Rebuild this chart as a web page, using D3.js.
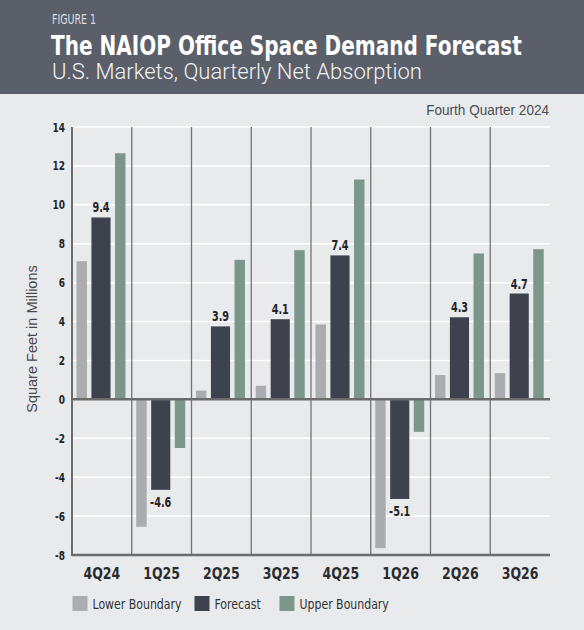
<!DOCTYPE html>
<html>
<head>
<meta charset="utf-8">
<script src="https://cdn.jsdelivr.net/npm/d3@7"></script>
<style>
  body { margin: 0; background: #e9eaec; }
  svg { display: block; }
</style>
</head>
<body>
<svg id="chart"></svg>
<script>
const width = 584, height = 630;

// data
const quarters = ["4Q24", "1Q25", "2Q25", "3Q25", "4Q25", "1Q26", "2Q26", "3Q26"];
const lowerBoundary = [7.1, -6.55, 0.45, 0.7, 3.85, -7.65, 1.25, 1.35];
const forecast = [9.35, -4.65, 3.75, 4.12, 7.4, -5.12, 4.22, 5.44];
const upperBoundary = [12.65, -2.5, 7.17, 7.67, 11.3, -1.67, 7.5, 7.72];
const forecastLabels = ["9.4", "-4.6", "3.9", "4.1", "7.4", "-5.1", "4.3", "4.7"];
const yTicks = [-8, -6, -4, -2, 0, 2, 4, 6, 8, 10, 12, 14];
const legendItems = ["Lower Boundary", "Forecast", "Upper Boundary"];

const colors = {lower: "#aaacaf", forecast: "#3d424d", upper: "#7b978b"};
const narrow = "'DejaVu Sans Condensed', 'Liberation Sans Narrow', sans-serif";
const plain = "'Liberation Sans', Arial, sans-serif";

const svg = d3.select('#chart')
    .attr('width', width)
    .attr('height', height);

svg.append('rect')
    .attr('width', width).attr('height', height)
    .attr('fill', '#e9eaec');

// squeezed text, to get close to the condensed face of the original
function squeezed(parent, px, py, k) {
    return parent.append('text')
        .attr('transform', 'translate(' + px + ',' + py + ') scale(' + k + ',1)');
}

// squeeze a text so it spans a given width
function fitWidth(sel, px, py, target, anchor) {
    const len = sel.node().getComputedTextLength();
    const k = Math.min(1.2, target / len);
    sel.attr('text-anchor', anchor || 'start')
        .attr('transform', 'translate(' + px + ',' + py + ') scale(' + k + ',1)');
    return sel;
}

// header band
svg.append('rect')
    .attr('width', width).attr('height', 94)
    .attr('fill', '#5a5f69');

squeezed(svg, 52, 23.5, 0.78)
    .attr('font-family', narrow).attr('font-size', 13.5)
    .attr('fill', '#dcdee1')
    .text('FIGURE 1');

fitWidth(svg.append('text')
    .attr('font-family', narrow).attr('font-size', 27).attr('font-weight', 'bold')
    .attr('fill', '#ffffff')
    .text('The NAIOP Office Space Demand Forecast'), 51, 55, 471);

fitWidth(svg.append('text')
    .attr('font-family', "Roboto, 'Liberation Sans', sans-serif").attr('font-size', 21.5).attr('font-weight', 300)
    .attr('fill', '#f2f3f4')
    .text('U.S. Markets, Quarterly Net Absorption'), 52, 79, 370);

fitWidth(svg.append('text')
    .attr('font-family', plain).attr('font-size', 14)
    .attr('fill', '#4a4d52')
    .text('Fourth Quarter 2024'), 549, 114.5, 123, 'end');

// scales
const x = d3.scaleBand()
    .domain(quarters)
    .range([72, 550])
    .padding(0);

const y = d3.scaleLinear()
    .domain([-8, 14])
    .range([555, 127]);

const bw = x.bandwidth();
const thin = bw * 0.175, wide = bw * 0.32, gap = bw * 0.075, start = bw * 0.075;
const offsets = {lower: start, forecast: start + thin + gap, upper: start + thin + gap + wide + gap};
const widths = {lower: thin, forecast: wide, upper: thin};

// gridlines
svg.append('g')
    .selectAll('line')
    .data(yTicks.filter(d => d !== 0 && d !== -8))
    .enter().append('line')
    .attr('x1', 72).attr('x2', 550)
    .attr('y1', d => y(d)).attr('y2', d => y(d))
    .attr('stroke', '#ffffff').attr('stroke-width', 1.5);

// vertical separators
svg.append('g')
    .selectAll('line')
    .data(quarters.slice(1))
    .enter().append('line')
    .attr('x1', d => x(d)).attr('x2', d => x(d))
    .attr('y1', y(14)).attr('y2', y(-8))
    .attr('stroke', '#747474').attr('stroke-width', 1.3);

// bars
const series = [
    {key: 'lower', values: lowerBoundary},
    {key: 'forecast', values: forecast},
    {key: 'upper', values: upperBoundary}
];

series.forEach(function (s) {
    svg.append('g')
        .selectAll('rect')
        .data(s.values)
        .enter().append('rect')
        .attr('x', function (d, i) { return x(quarters[i]) + offsets[s.key] })
        .attr('width', widths[s.key])
        .attr('y', function (d) { return y(Math.max(0, d)) })
        .attr('height', function (d) { return Math.abs(y(d) - y(0)) })
        .attr('fill', colors[s.key]);
});

// forecast value labels
const valueLabels = svg.append('g');
forecast.forEach(function (d, i) {
    const cx = x(quarters[i]) + offsets.forecast + wide / 2;
    const cy = d >= 0 ? y(d) - 5 : y(d) + 17;
    squeezed(valueLabels, cx, cy, 0.8)
        .attr('text-anchor', 'middle')
        .attr('font-family', narrow).attr('font-size', 13.5).attr('font-weight', 'bold')
        .attr('fill', '#222428')
        .text(forecastLabels[i]);
});

// axes lines
svg.append('line')
    .attr('x1', 72).attr('x2', 550)
    .attr('y1', y(0)).attr('y2', y(0))
    .attr('stroke', '#6b6b6b').attr('stroke-width', 2.5);

svg.append('line')
    .attr('x1', 72).attr('x2', 550)
    .attr('y1', y(-8)).attr('y2', y(-8))
    .attr('stroke', '#6b6b6b').attr('stroke-width', 2.5);

svg.append('line')
    .attr('x1', 72).attr('x2', 72)
    .attr('y1', y(14)).attr('y2', y(-8) + 1)
    .attr('stroke', '#6b6b6b').attr('stroke-width', 2);

// y tick labels
const yLabels = svg.append('g');
yTicks.forEach(function (d) {
    squeezed(yLabels, 65, y(d) + 4.5, 0.77)
        .attr('text-anchor', 'end')
        .attr('font-family', narrow).attr('font-size', 13).attr('font-weight', 'bold')
        .attr('fill', '#222428')
        .text(d);
});

// x labels
const xLabels = svg.append('g');
quarters.forEach(function (d) {
    squeezed(xLabels, x(d) + bw / 2, 578.5, 0.87)
        .attr('text-anchor', 'middle')
        .attr('font-family', narrow).attr('font-size', 16).attr('font-weight', 'bold')
        .attr('fill', '#2a2c30')
        .text(d);
});

// y axis title
svg.append('text')
    .attr('transform', 'translate(37,339) rotate(-90)')
    .attr('text-anchor', 'middle')
    .attr('font-family', plain).attr('font-size', 14.5)
    .attr('fill', '#45484d')
    .text('Square Feet in Millions');

// legend
const legendX = [72.5, 194.5, 279.5];
const legendColors = [colors.lower, colors.forecast, colors.upper];
const legend = svg.append('g')
    .selectAll('g')
    .data(legendItems)
    .enter().append('g')
    .attr('transform', (d, i) => 'translate(' + legendX[i] + ',596)');

legend.append('rect')
    .attr('width', 15).attr('height', 15)
    .attr('fill', (d, i) => legendColors[i]);

legend.append('text')
    .attr('transform', 'translate(20,12.5) scale(0.84,1)')
    .attr('font-family', narrow).attr('font-size', 14.5)
    .attr('fill', '#2f3236')
    .text(d => d);
</script>
</body>
</html>
